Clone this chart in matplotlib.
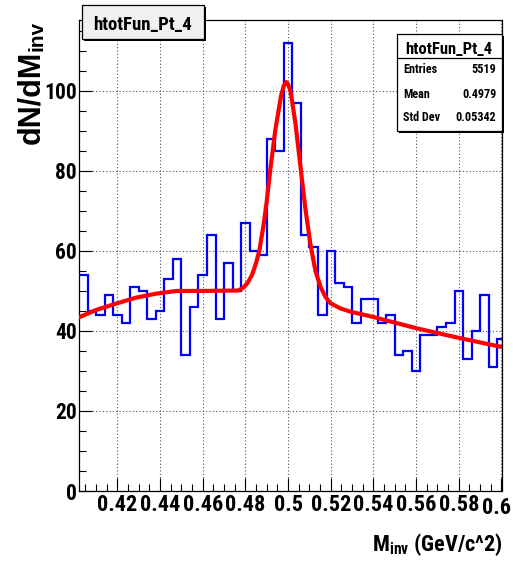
import numpy as np
import matplotlib
matplotlib.use("Agg")
import matplotlib.pyplot as plt
from matplotlib.patches import Rectangle
from matplotlib.lines import Line2D
from matplotlib.transforms import ScaledTranslation
from matplotlib.ticker import MultipleLocator, FixedLocator, FixedFormatter

# ---- histogram contents (bin width 0.004 starting at 0.402) ----
bin_start = 0.402
bin_width = 0.004
counts = [54, 45, 44, 49, 44, 42, 51, 50, 43, 45,
          53, 58, 34, 46, 54, 64, 43, 57, 50, 67,
          60, 59, 88, 85, 112, 97, 64, 61, 44, 60,
          52, 51, 42, 48, 48, 42, 44, 34, 35, 30,
          39, 39, 41, 42, 50, 33, 40, 49, 31, 38]

# ---- fitted signal + background curve ----
fit_x = [0.4020, 0.4098, 0.4192, 0.4286, 0.4380, 0.4478, 0.4600, 0.4766,
         0.4790, 0.4810, 0.4831, 0.4850, 0.4865, 0.4885, 0.4900, 0.4917,
         0.4940, 0.4967, 0.4980, 0.4991, 0.5000, 0.5011, 0.5034, 0.5058,
         0.5081, 0.5105, 0.5128, 0.5152, 0.5175, 0.5199, 0.5246, 0.5293,
         0.5398, 0.5599, 0.5797, 0.6000]
fit_y = [43.4, 45.2, 46.8, 48.3, 49.3, 50.0, 50.0, 50.1,
         50.8, 52.0, 54.0, 57.0, 60.0, 66.5, 72.5, 80.5,
         90.2, 98.8, 101.3, 102.2, 101.6, 100.0, 92.0, 81.0,
         70.5, 61.5, 55.0, 51.0, 48.5, 46.9, 45.6, 44.8,
         43.5, 40.7, 38.3, 36.0]

x_ticks = [0.42, 0.44, 0.46, 0.48, 0.50, 0.52, 0.54, 0.56, 0.58, 0.60]
x_tick_labels = ["0.42", "0.44", "0.46", "0.48", "0.5", "0.52", "0.54",
                 "0.56", "0.58", "0.6"]
y_ticks = [0, 20, 40, 60, 80, 100]
y_tick_labels = ["0", "20", "40", "60", "80", "100"]

hist_name = "htotFun_Pt_4"
stats_labels = ["Entries", "Mean", "Std Dev"]
stats_values = ["5519", "0.4979", "0.05342"]
y_title, y_title_sub = "dN/dM", "inv"

NARROW = ["Roboto Condensed", "Liberation Sans", "DejaVu Sans"]
WIDE = ["Liberation Sans", "DejaVu Sans"]

plt.rcParams["font.family"] = NARROW
plt.rcParams["font.weight"] = "bold"
plt.rcParams["mathtext.fontset"] = "custom"
plt.rcParams["mathtext.rm"] = "Roboto Condensed:bold"
plt.rcParams["mathtext.bf"] = "Roboto Condensed:bold"

W, H = 513, 564
fig = plt.figure(figsize=(W / 100, H / 100), dpi=100)
fig.patch.set_facecolor("white")


def fx(px):
    return px / W


def fy(py):
    return 1 - py / H


ax_l, ax_r, ax_t, ax_b = 79, 501.5, 20, 491
ax = fig.add_axes([fx(ax_l), fy(ax_b), (ax_r - ax_l) / W, (ax_b - ax_t) / H])

edges = bin_start + bin_width * np.arange(len(counts) + 1)
ax.stairs(counts, edges, baseline=None, color="#0000ff", lw=1.6, zorder=3)
ax.plot(fit_x, fit_y, color="#ff0000", lw=3.0, zorder=4,
        solid_joinstyle="round", solid_capstyle="round")

ax.set_xlim(0.402, 0.6)
ax.set_ylim(0, 117.7)

# the last x label is pulled inwards so that it stays on the canvas
ax.xaxis.set_major_locator(FixedLocator(x_ticks))
ax.xaxis.set_major_formatter(FixedFormatter(x_tick_labels[:-1] + [""]))
ax.xaxis.set_minor_locator(MultipleLocator(0.005))
ax.yaxis.set_major_locator(FixedLocator(y_ticks))
ax.yaxis.set_major_formatter(FixedFormatter(y_tick_labels))
ax.yaxis.set_minor_locator(MultipleLocator(5))

ax.tick_params(which="major", direction="in", length=9.5, width=0.8,
               labelsize=16, colors="black")
ax.tick_params(which="minor", direction="in", length=5, width=0.8)
ax.tick_params(axis="y", which="major", pad=1.5, labelsize=15.5)
ax.tick_params(axis="x", which="major", pad=2.5)
for lab in ax.get_xticklabels() + ax.get_yticklabels():
    lab.set_fontweight("bold")

shift = ScaledTranslation(-5 / 100, -5.5 / 100, fig.dpi_scale_trans)
ax.text(x_ticks[-1], 0, x_tick_labels[-1], transform=ax.transData + shift,
        ha="center", va="top", fontsize=16, fontweight="bold", clip_on=False)

ax.grid(True, which="major", linestyle=(0, (1, 2)), color="#555555", lw=0.8)
ax.set_axisbelow(True)
for sp in ax.spines.values():
    sp.set_linewidth(0.9)

# axis titles
fig.text(fx(503), fy(551.5), r"$\mathrm{M}_{\mathrm{inv}}$ (GeV/c^2)",
         ha="right", va="baseline", fontsize=16, fontweight="bold")
fig.text(fx(39), fy(51), y_title, ha="right", va="baseline", rotation=90,
         rotation_mode="anchor", fontsize=22, fontweight="bold", family=WIDE)
fig.text(fx(43), fy(20.5), y_title_sub, ha="right", va="baseline",
         rotation=90, rotation_mode="anchor", fontsize=15, fontweight="bold",
         family=WIDE)

# histogram title box with shadow
tb_l, tb_r, tb_t, tb_b = 82, 204, 5, 39
fig.patches.append(Rectangle((fx(tb_l + 2), fy(tb_b + 2)), (tb_r - tb_l) / W,
                             (tb_b - tb_t) / H, transform=fig.transFigure,
                             facecolor="black", edgecolor="none", zorder=10))
fig.patches.append(Rectangle((fx(tb_l), fy(tb_b)), (tb_r - tb_l) / W,
                             (tb_b - tb_t) / H, transform=fig.transFigure,
                             facecolor="#f0f0f0", edgecolor="black", lw=0.9,
                             zorder=11))
fig.text(fx((tb_l + tb_r) / 2), fy(29.5), hist_name, ha="center",
         va="baseline", fontsize=13.5, fontweight="bold", zorder=12)

# statistics box with shadow
sb_l, sb_r, sb_t, sb_b = 397, 501.5, 34, 131
fig.patches.append(Rectangle((fx(sb_l + 2), fy(sb_b + 2)), (sb_r - sb_l) / W,
                             (sb_b - sb_t) / H, transform=fig.transFigure,
                             facecolor="black", edgecolor="none", zorder=10))
fig.patches.append(Rectangle((fx(sb_l), fy(sb_b)), (sb_r - sb_l) / W,
                             (sb_b - sb_t) / H, transform=fig.transFigure,
                             facecolor="white", edgecolor="black", lw=0.9,
                             zorder=11))
fig.lines.append(Line2D([fx(sb_l), fx(sb_r)], [fy(57.7), fy(57.7)],
                        transform=fig.transFigure, color="black", lw=0.9,
                        zorder=12))
fig.text(fx((sb_l + sb_r) / 2), fy(54), hist_name, ha="center",
         va="baseline", fontsize=12, fontweight="bold", zorder=12)
row_baselines = [73.3, 98.5, 121]
for lab, val, yb in zip(stats_labels, stats_values, row_baselines):
    fig.text(fx(403), fy(yb), lab, ha="left", va="baseline", fontsize=8.7,
             fontweight="bold", zorder=12)
    fig.text(fx(496.5), fy(yb), val, ha="right", va="baseline", fontsize=8.7,
             fontweight="bold", zorder=12)

fig.savefig("out.png", dpi=100, facecolor="white")
